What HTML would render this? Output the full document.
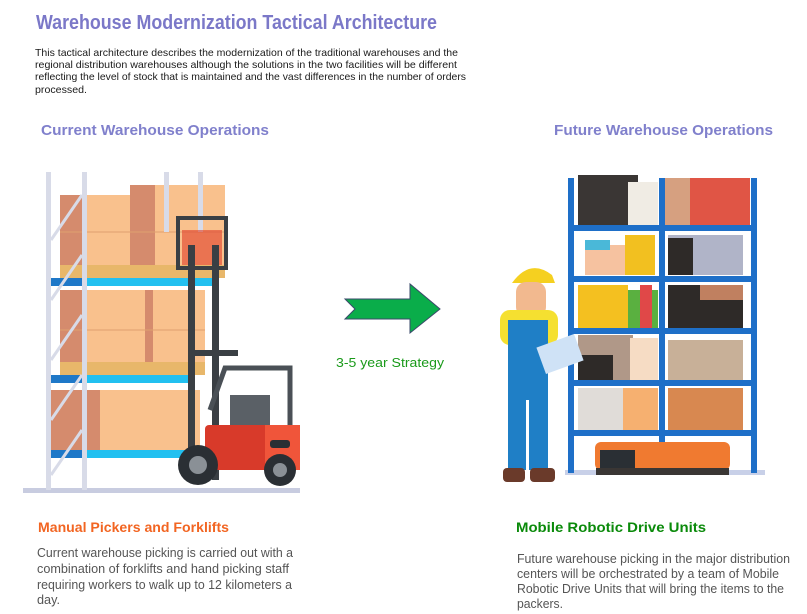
<!DOCTYPE html>
<html><head><meta charset="utf-8"><style>
html,body{margin:0;padding:0;background:#fff;width:807px;height:614px;overflow:hidden}
svg{display:block}
text{font-family:"Liberation Sans",sans-serif}
</style></head><body>
<svg width="807" height="614" viewBox="0 0 807 614">
<rect width="807" height="614" fill="#fff"/>
<text x="36" y="29" font-size="20" font-weight="bold" fill="#7b78c8" textLength="401" lengthAdjust="spacingAndGlyphs">Warehouse Modernization Tactical Architecture</text>
<g font-size="10.5" fill="#1a1a1a">
<text x="35" y="56" textLength="423" lengthAdjust="spacingAndGlyphs">This tactical architecture describes the modernization of the traditional warehouses and the</text>
<text x="35" y="68" textLength="422" lengthAdjust="spacingAndGlyphs">regional distribution warehouses although the solutions in the two facilities will be different</text>
<text x="35" y="80" textLength="431" lengthAdjust="spacingAndGlyphs">reflecting the level of stock that is maintained and the vast differences in the number of orders</text>
<text x="35" y="93" textLength="52" lengthAdjust="spacingAndGlyphs">processed.</text>
</g>
<text x="41" y="135" font-size="15" font-weight="bold" fill="#8080cc" textLength="228" lengthAdjust="spacingAndGlyphs">Current Warehouse Operations</text>
<text x="554" y="135" font-size="15" font-weight="bold" fill="#8080cc" textLength="219" lengthAdjust="spacingAndGlyphs">Future Warehouse Operations</text>

<!-- left rack illustration -->
<g>
<rect x="23" y="488" width="277" height="5" fill="#c8cce0"/>
<!-- boxes top -->
<rect x="60" y="195" width="100" height="75" fill="#f9c18d"/>
<rect x="60" y="195" width="25" height="75" fill="#d58b6d"/>
<rect x="130" y="185" width="95" height="85" fill="#f9c18d"/>
<rect x="130" y="185" width="25" height="85" fill="#d58b6d"/>
<line x1="60" y1="232" x2="225" y2="232" stroke="#e0a070"/>
<rect x="60" y="265" width="165" height="13" fill="#e8b76a"/>
<!-- middle -->
<rect x="60" y="290" width="145" height="75" fill="#f9c18d"/>
<rect x="60" y="290" width="25" height="75" fill="#d58b6d"/>
<rect x="145" y="290" width="8" height="75" fill="#d58b6d"/>
<line x1="60" y1="330" x2="205" y2="330" stroke="#e0a070"/>
<rect x="60" y="362" width="145" height="13" fill="#e8b76a"/>
<!-- bottom -->
<rect x="50" y="390" width="150" height="62" fill="#f9c18d"/>
<rect x="50" y="390" width="50" height="62" fill="#d58b6d"/>
<!-- beams -->
<rect x="50" y="278" width="165" height="8" fill="#22c0f0"/><rect x="50" y="278" width="35" height="8" fill="#1e78c8"/>
<rect x="50" y="375" width="140" height="8" fill="#22c0f0"/><rect x="50" y="375" width="35" height="8" fill="#1e78c8"/>
<rect x="50" y="450" width="140" height="8" fill="#22c0f0"/><rect x="50" y="450" width="35" height="8" fill="#1e78c8"/>
<!-- uprights -->
<g fill="#d8dbe8">
<rect x="46" y="172" width="5" height="318"/><rect x="82" y="172" width="5" height="318"/>
<rect x="164" y="172" width="5" height="60"/><rect x="198" y="172" width="5" height="60"/>
</g>
<g stroke="#d8dbe8" stroke-width="3">
<line x1="51" y1="240" x2="82" y2="195"/><line x1="51" y1="300" x2="82" y2="255"/>
<line x1="51" y1="360" x2="82" y2="315"/><line x1="51" y1="420" x2="82" y2="375"/><line x1="51" y1="475" x2="82" y2="430"/>
</g>
<!-- forklift -->
<rect x="178" y="218" width="48" height="50" fill="none" stroke="#3a3f44" stroke-width="4"/>
<rect x="182" y="230" width="40" height="35" fill="#e0402a" opacity="0.6"/>
<rect x="188" y="245" width="7" height="235" fill="#3a3f44"/>
<rect x="212" y="245" width="7" height="235" fill="#3a3f44"/>
<rect x="188" y="350" width="50" height="6" fill="#3a3f44"/>
<path d="M210 410 L225 368 L290 368 L290 430" fill="none" stroke="#4a5056" stroke-width="5"/>
<rect x="230" y="395" width="40" height="35" fill="#5a6066"/>
<rect x="205" y="425" width="95" height="45" fill="#d83a2a" rx="4"/>
<rect x="265" y="425" width="35" height="45" fill="#f0553a"/>
<rect x="270" y="440" width="20" height="8" fill="#2a2f34" rx="3"/>
<circle cx="198" cy="465" r="20" fill="#2a2f34"/><circle cx="198" cy="465" r="9" fill="#8a9096"/>
<circle cx="280" cy="470" r="16" fill="#2a2f34"/><circle cx="280" cy="470" r="7" fill="#8a9096"/>
</g>

<!-- arrow -->
<polygon points="345,299 410,299 410,284 440,309 410,333 410,319 345,319 355,309" fill="#0aad4a" stroke="#3a4a6a" stroke-width="1"/>
<text x="336" y="367" font-size="13" fill="#1a9a1a" textLength="108" lengthAdjust="spacingAndGlyphs">3-5 year Strategy</text>

<!-- right shelf -->
<g>
<rect x="565" y="470" width="200" height="5" fill="#c8d0e8"/>
<!-- items -->
<rect x="578" y="175" width="60" height="50" fill="#3a3634"/>
<rect x="628" y="182" width="30" height="43" fill="#f0ece4"/>
<rect x="665" y="178" width="85" height="47" fill="#e05545"/><rect x="665" y="178" width="25" height="47" fill="#d6a080"/>
<rect x="585" y="245" width="40" height="30" fill="#f6c2a0"/><rect x="585" y="240" width="25" height="10" fill="#4ab8d8"/>
<rect x="625" y="235" width="30" height="40" fill="#f2c020"/>
<rect x="668" y="235" width="75" height="40" fill="#b0b4c8"/><rect x="668" y="238" width="25" height="37" fill="#2e2a28"/>
<rect x="578" y="285" width="50" height="43" fill="#f4c020"/>
<rect x="628" y="290" width="30" height="38" fill="#5ab040"/><rect x="640" y="285" width="12" height="43" fill="#e04848"/>
<rect x="668" y="285" width="75" height="43" fill="#2e2a28"/><rect x="700" y="285" width="43" height="15" fill="#c08060"/>
<rect x="578" y="335" width="55" height="45" fill="#b09888"/><rect x="578" y="355" width="35" height="25" fill="#2e2a28"/>
<rect x="630" y="338" width="28" height="42" fill="#f6dcc4"/>
<rect x="668" y="340" width="75" height="40" fill="#c8b098"/>
<rect x="578" y="388" width="45" height="42" fill="#e0dcd8"/>
<rect x="623" y="388" width="35" height="42" fill="#f6b070"/>
<rect x="668" y="388" width="75" height="42" fill="#d88850"/>
<!-- frame -->
<g fill="#1e6fc8">
<rect x="568" y="178" width="6" height="295"/><rect x="659" y="178" width="6" height="295"/><rect x="751" y="178" width="6" height="295"/>
<rect x="568" y="225" width="189" height="6"/><rect x="568" y="276" width="189" height="6"/>
<rect x="568" y="328" width="189" height="6"/><rect x="568" y="380" width="189" height="6"/><rect x="568" y="430" width="189" height="6"/>
</g>
<!-- robot -->
<rect x="595" y="442" width="135" height="28" fill="#f07a30" rx="6"/>
<rect x="600" y="450" width="35" height="18" fill="#2a2f34"/>
<rect x="596" y="468" width="133" height="7" fill="#3a3634"/>
<!-- worker -->
<path d="M512 283 Q530 258 552 275 L555 283 Z" fill="#f5d020"/>
<rect x="516" y="282" width="30" height="35" rx="10" fill="#f2b98f"/>
<rect x="500" y="310" width="58" height="35" rx="10" fill="#f5e030"/>
<rect x="508" y="320" width="40" height="150" fill="#1f7fc6"/>
<rect x="526" y="400" width="3" height="70" fill="#fff"/>
<rect x="540" y="340" width="40" height="28" fill="#cfe2f6" transform="rotate(-20 560 354)"/>
<rect x="503" y="468" width="22" height="14" fill="#6a3a2a" rx="4"/>
<rect x="530" y="468" width="25" height="14" fill="#6a3a2a" rx="4"/>
</g>

<text x="38" y="532" font-size="14" font-weight="bold" fill="#f26522" textLength="191" lengthAdjust="spacingAndGlyphs">Manual Pickers and Forklifts</text>
<g font-size="12.5" fill="#555">
<text x="37" y="557" textLength="256" lengthAdjust="spacingAndGlyphs">Current warehouse picking is carried out with a</text>
<text x="37" y="573" textLength="252" lengthAdjust="spacingAndGlyphs">combination of forklifts and hand picking staff</text>
<text x="37" y="589" textLength="255" lengthAdjust="spacingAndGlyphs">requiring workers to walk up to 12 kilometers a</text>
<text x="37" y="604" textLength="23" lengthAdjust="spacingAndGlyphs">day.</text>
</g>
<text x="516" y="532" font-size="14" font-weight="bold" fill="#0a8a0a" textLength="190" lengthAdjust="spacingAndGlyphs">Mobile Robotic Drive Units</text>
<g font-size="12.5" fill="#555">
<text x="517" y="563" textLength="273" lengthAdjust="spacingAndGlyphs">Future warehouse picking in the major distribution</text>
<text x="517" y="578" textLength="262" lengthAdjust="spacingAndGlyphs">centers will be orchestrated by a team of Mobile</text>
<text x="517" y="593" textLength="267" lengthAdjust="spacingAndGlyphs">Robotic Drive Units that will bring the items to the</text>
<text x="517" y="608" textLength="46" lengthAdjust="spacingAndGlyphs">packers.</text>
</g>
</svg>
</body></html>
